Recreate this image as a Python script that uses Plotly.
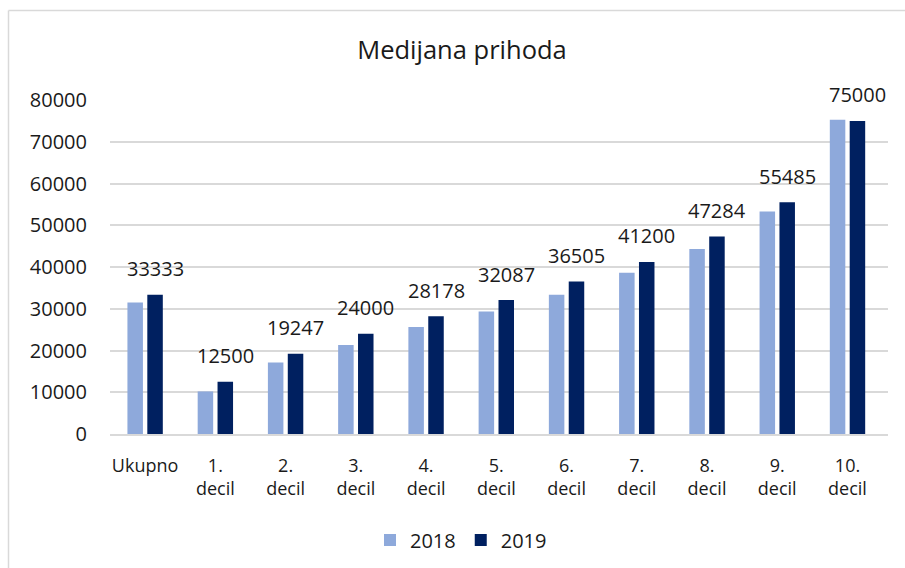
import plotly.graph_objects as go

categories = ["Ukupno", "1.<br>decil", "2.<br>decil", "3.<br>decil", "4.<br>decil",
              "5.<br>decil", "6.<br>decil", "7.<br>decil", "8.<br>decil", "9.<br>decil", "10.<br>decil"]
values_2018 = [31500, 10200, 17100, 21300, 25600, 29350, 33330, 38600, 44340, 53270, 75280]
values_2019 = [33333, 12500, 19247, 24000, 28178, 32087, 36505, 41200, 47284, 55485, 75000]
labels_2019 = [str(v) for v in values_2019]
y_ticks = [0, 10000, 20000, 30000, 40000, 50000, 60000, 70000, 80000]

W, H = 905, 568
L, R, T, B = 110, 17, 100, 134
pw, ph = W - L - R, H - T - B

font_family = "Open Sans, Noto Sans, sans-serif"
txt = "#1a1a1a"

fig = go.Figure()
fig.add_trace(go.Bar(name="2018", x=categories, y=values_2018, marker_color="#8EA9DB",
                     marker_line_width=0))
fig.add_trace(go.Bar(name="2019", x=categories, y=values_2019, marker_color="#002060",
                     marker_line_width=0))

# data labels above the 2019 bars
for c, v, t in zip(categories, values_2019, labels_2019):
    fig.add_annotation(x=c, y=v, text=t, showarrow=False, xref="x", yref="y",
                       xanchor="center", yanchor="middle", xshift=10, yshift=26,
                       font=dict(size=20, color=txt, family=font_family))


def px_x(x):
    return (x - L) / pw


def px_y(y):
    return (H - B - y) / ph


fig.update_layout(
    width=W, height=H,
    margin=dict(l=L, r=R, t=T, b=B, autoexpand=False),
    paper_bgcolor="white", plot_bgcolor="white",
    barmode="group", bargap=0.434, bargroupgap=0.22,
    title=dict(text="Medijana prihoda", x=462 / W, xanchor="center", y=1 - 50 / H, yanchor="middle",
               font=dict(size=25.5, color=txt, family=font_family)),
    font=dict(family=font_family, color=txt),
    xaxis=dict(showgrid=False, showline=True, linecolor="#d9d9d9", linewidth=2,
               tickfont=dict(size=18, color=txt), ticks="", ticklabelstandoff=14,
               automargin=False),
    yaxis=dict(range=[0, 80000], tickvals=y_ticks, ticktext=[str(v) for v in y_ticks],
               showgrid=True, gridcolor="#d9d9d9", gridwidth=2, zeroline=False,
               tickfont=dict(size=20, color=txt), ticklabelstandoff=22,
               automargin=False),
    legend=dict(orientation="h", x=px_x(461), xanchor="center", y=px_y(540), yanchor="middle",
                font=dict(size=20, color=txt), itemsizing="constant",
                traceorder="normal", itemwidth=30),
    showlegend=True,
    shapes=[
        dict(type="line", xref="paper", yref="paper", x0=px_x(8.5), x1=px_x(8.5),
             y0=px_y(10.5), y1=px_y(600), line=dict(color="#d9d9d9", width=1.5)),
        dict(type="line", xref="paper", yref="paper", x0=px_x(8.5), x1=px_x(920),
             y0=px_y(10.5), y1=px_y(10.5), line=dict(color="#d9d9d9", width=1.5)),
    ],
)

fig.write_html("out.html", config={"displayModeBar": False},
               post_script="document.body.style.margin='0';document.body.style.overflow='hidden';")
